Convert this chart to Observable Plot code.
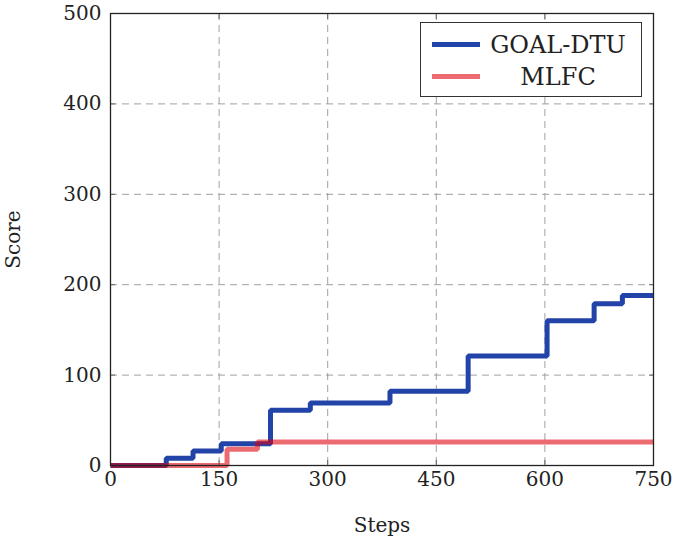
<!DOCTYPE html>
<html><head><meta charset="utf-8">
<script src="https://cdn.jsdelivr.net/npm/d3@7"></script>
<script src="https://cdn.jsdelivr.net/npm/@observablehq/plot@0.6"></script>
<style>
body{margin:0;background:#fff;}
#wrap{position:relative;width:673px;height:539px;}
.legend{position:absolute;left:420px;top:22px;width:220px;height:73px;border:1.4px solid #333;background:#fff;font-family:"DejaVu Serif";font-size:24px;color:#222;box-sizing:content-box}
.row{position:absolute;left:0;width:220px;height:30px}
.sw{position:absolute;left:11px;width:48px;height:5px;top:12px}
.lab{position:absolute;left:60px;right:6px;text-align:center;top:0;line-height:30px}
</style></head>
<body><div id="wrap"></div>
<script>
const xTicks = [0, 150, 300, 450, 600, 750];
const yTicks = [0, 100, 200, 300, 400, 500];
const goalSteps = [0, 77, 114, 153, 221, 276, 386, 494, 603, 668, 707, 750];
const goalScores = [0, 8, 16, 24, 61, 69, 82, 121, 160, 179, 188, 188];
const mlfcSteps = [0, 161, 203, 750];
const mlfcScores = [0, 18, 26, 26];
const seriesNames = ["GOAL-DTU", "MLFC"];
const blue = "#2243a8";
const red = "rgb(222,0,10)";
const redOpacity = 0.58;

const goal = goalSteps.map((s, i) => ({step: s, score: goalScores[i]}));
const mlfc = mlfcSteps.map((s, i) => ({step: s, score: mlfcScores[i]}));

const gridStyle = {stroke: "#a0a0a0", strokeOpacity: 1, strokeWidth: 1, strokeDasharray: "7,5"};
const tickStyle = {stroke: "#666", tickFormat: () => "", label: null};

const chart = Plot.plot({
  width: 673, height: 539,
  marginLeft: 110, marginRight: 20, marginTop: 13, marginBottom: 74,
  style: {fontFamily: "DejaVu Serif", fontSize: "20px", color: "#222", background: "#fff"},
  x: {domain: [0, 750]},
  y: {domain: [0, 500]},
  marks: [
    Plot.gridX(xTicks, gridStyle),
    Plot.gridY(yTicks, gridStyle),
    Plot.line(goal, {x: "step", y: "score", curve: "step-after", stroke: blue, strokeWidth: 5, strokeLinejoin: "miter", strokeLinecap: "butt"}),
    Plot.line(mlfc, {x: "step", y: "score", curve: "step-after", stroke: red, strokeOpacity: redOpacity, strokeWidth: 5, strokeLinejoin: "miter", strokeLinecap: "butt"}),
    Plot.axisX(xTicks, {anchor: "bottom", tickSize: -5, ...tickStyle}),
    Plot.axisX(xTicks, {anchor: "top", tickSize: -5, ...tickStyle}),
    Plot.axisY(yTicks, {anchor: "left", tickSize: -5, ...tickStyle}),
    Plot.axisY(yTicks, {anchor: "right", tickSize: -5, ...tickStyle}),
    Plot.frame({stroke: "#222", strokeWidth: 1.3}),
    Plot.axisX(xTicks, {anchor: "bottom", tickSize: 0, tickPadding: 6, label: null, fontSize: 20}),
    Plot.axisY(yTicks, {anchor: "left", tickSize: 0, tickPadding: 9, label: null, fontSize: 20}),
    Plot.text(["Score"], {frameAnchor: "left", dx: -97, rotate: -90, textAnchor: "middle", lineAnchor: "middle", fontSize: 20}),
    Plot.text(["Steps"], {frameAnchor: "bottom", dy: 60, textAnchor: "middle", lineAnchor: "middle", fontSize: 20})
  ]
});
const wrap = document.getElementById("wrap");
wrap.appendChild(chart);

const legend = document.createElement("div");
legend.className = "legend";
const colors = [blue, red];
const ops = [1, redOpacity];
seriesNames.forEach((n, i) => {
  const row = document.createElement("div");
  row.className = "row";
  row.style.top = (7 + i * 32) + "px";
  const sw = document.createElement("div");
  sw.className = "sw";
  sw.style.background = colors[i];
  sw.style.opacity = ops[i];
  const lab = document.createElement("div");
  lab.className = "lab";
  lab.textContent = n;
  row.appendChild(sw); row.appendChild(lab);
  legend.appendChild(row);
});
wrap.appendChild(legend);
</script></body></html>
